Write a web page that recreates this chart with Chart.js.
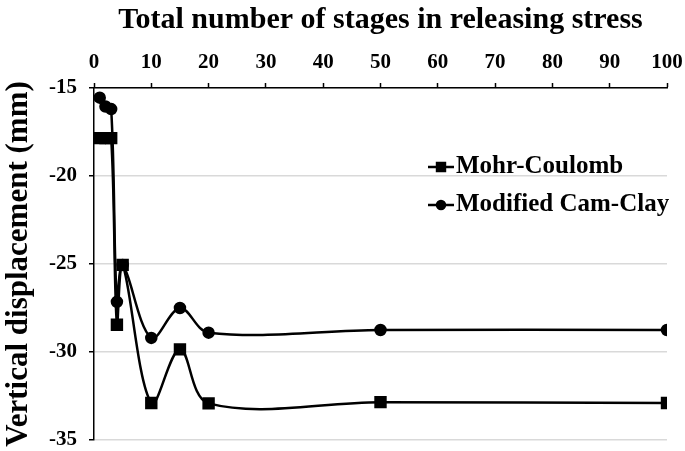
<!DOCTYPE html>
<html>
<head>
<meta charset="utf-8">
<script src="https://cdn.jsdelivr.net/npm/chart.js@4/dist/chart.umd.min.js"></script>
<style>
    html, body { margin: 0; padding: 0; background: #fff; }
    #wrap { width: 685px; height: 451px; }
</style>
</head>
<body>
<div id="wrap"><canvas id="dispChart" width="685" height="451"></canvas></div>
<script>
// stages in releasing stress (x) and vertical displacement in mm (y)
const stages = [1, 2, 3, 4, 5, 10, 15, 20, 50, 100];
const mohrCoulomb = [-17.85, -17.85, -17.85, -28.45, -25.05, -32.9, -29.85, -32.92, -32.85, -32.9];
const camClay = [-15.55, -16.05, -16.2, -27.15, -25.05, -29.2, -27.5, -28.9, -28.75, -28.75];
const seriesNames = ["Mohr-Coulomb", "Modified Cam-Clay"];
const xTicks = [0, 10, 20, 30, 40, 50, 60, 70, 80, 90, 100];
const yTicks = [-35, -30, -25, -20, -15];

const serif = "'Liberation Serif', 'Times New Roman', serif";

function toPoints(values) {
    return stages.map(function (s, i) { return {x: s, y: values[i]}; });
}

// legend drawn inside the plot, Excel style: line + marker + label
const insideLegend = {
    id: "insideLegend",
    afterDatasetsDraw(chart) {
        const ctx = chart.ctx;
        const area = chart.chartArea;
        const x0 = area.left + 334;
        const rows = [area.top + 79, area.top + 117];
        ctx.save();
        chart.data.datasets.forEach(function (ds, i) {
            const y = rows[i];
            ctx.strokeStyle = "#000";
            ctx.lineWidth = 2.5;
            ctx.beginPath();
            ctx.moveTo(x0, y);
            ctx.lineTo(x0 + 26, y);
            ctx.stroke();
            ctx.fillStyle = "#000";
            Chart.helpers.drawPoint(ctx, {pointStyle: ds.pointStyle, radius: ds.pointRadius * 0.8, rotation: 0, borderWidth: 1}, x0 + 13, y);
            ctx.font = "bold 25px " + serif;
            ctx.textBaseline = "middle";
            ctx.textAlign = "left";
            ctx.fillText(ds.label, x0 + 28, y);
        });
        ctx.restore();
    }
};

const ctx = document.getElementById("dispChart").getContext("2d");
new Chart(ctx, {
    type: "line",
    data: {
        datasets: [{
            label: seriesNames[0],
            data: toPoints(mohrCoulomb),
            borderColor: "#000",
            backgroundColor: "#000",
            borderWidth: 2.5,
            pointStyle: "rect",
            pointRadius: 7,
            tension: 0.35,
        }, {
            label: seriesNames[1],
            data: toPoints(camClay),
            borderColor: "#000",
            backgroundColor: "#000",
            borderWidth: 2.5,
            pointStyle: "circle",
            pointRadius: 5,
            tension: 0.35,
        }]
    },
    options: {
        responsive: false,
        animation: false,
        layout: {padding: {left: 0, right: 18, top: 0, bottom: 11}},
        plugins: {legend: {display: false}, tooltip: {enabled: false}},
        scales: {
            x: {
                type: "linear",
                position: "top",
                min: 0,
                max: 100,
                afterBuildTicks: function (scale) {
                    scale.ticks = xTicks.map(function (v) { return {value: v}; });
                },
                afterFit: function (scale) {
                    scale.height = 88;
                    scale.paddingLeft = 0;
                    scale.paddingRight = 0;
                },
                grid: {drawOnChartArea: false, drawTicks: true, tickLength: 5, tickColor: "#000", tickWidth: 1.5},
                border: {color: "#000", width: 1.5},
                ticks: {color: "#000", padding: 8, font: {family: serif, weight: "bold", size: 21}},
                title: {display: true, text: "Total number of stages in releasing stress", color: "#000", padding: {top: 2, bottom: 0}, font: {family: serif, weight: "bold", size: 30}},
            },
            y: {
                min: -35,
                max: -15,
                afterBuildTicks: function (scale) {
                    scale.ticks = yTicks.map(function (v) { return {value: v}; });
                },
                afterFit: function (scale) {
                    scale.width = 94;
                    scale.paddingTop = 0;
                    scale.paddingBottom = 0;
                },
                grid: {color: "#d9d9d9", lineWidth: 1.5, drawTicks: true, tickLength: 5, tickColor: "#000", tickWidth: 1.5},
                border: {color: "#000", width: 1.5},
                ticks: {color: "#000", padding: 12, font: {family: serif, weight: "bold", size: 21}},
                title: {display: true, text: "Vertical displacement (mm)", color: "#000", padding: {top: 0, bottom: 0}, font: {family: serif, weight: "bold", size: 31}},
            }
        }
    },
    plugins: [insideLegend]
});
</script>
</body>
</html>
